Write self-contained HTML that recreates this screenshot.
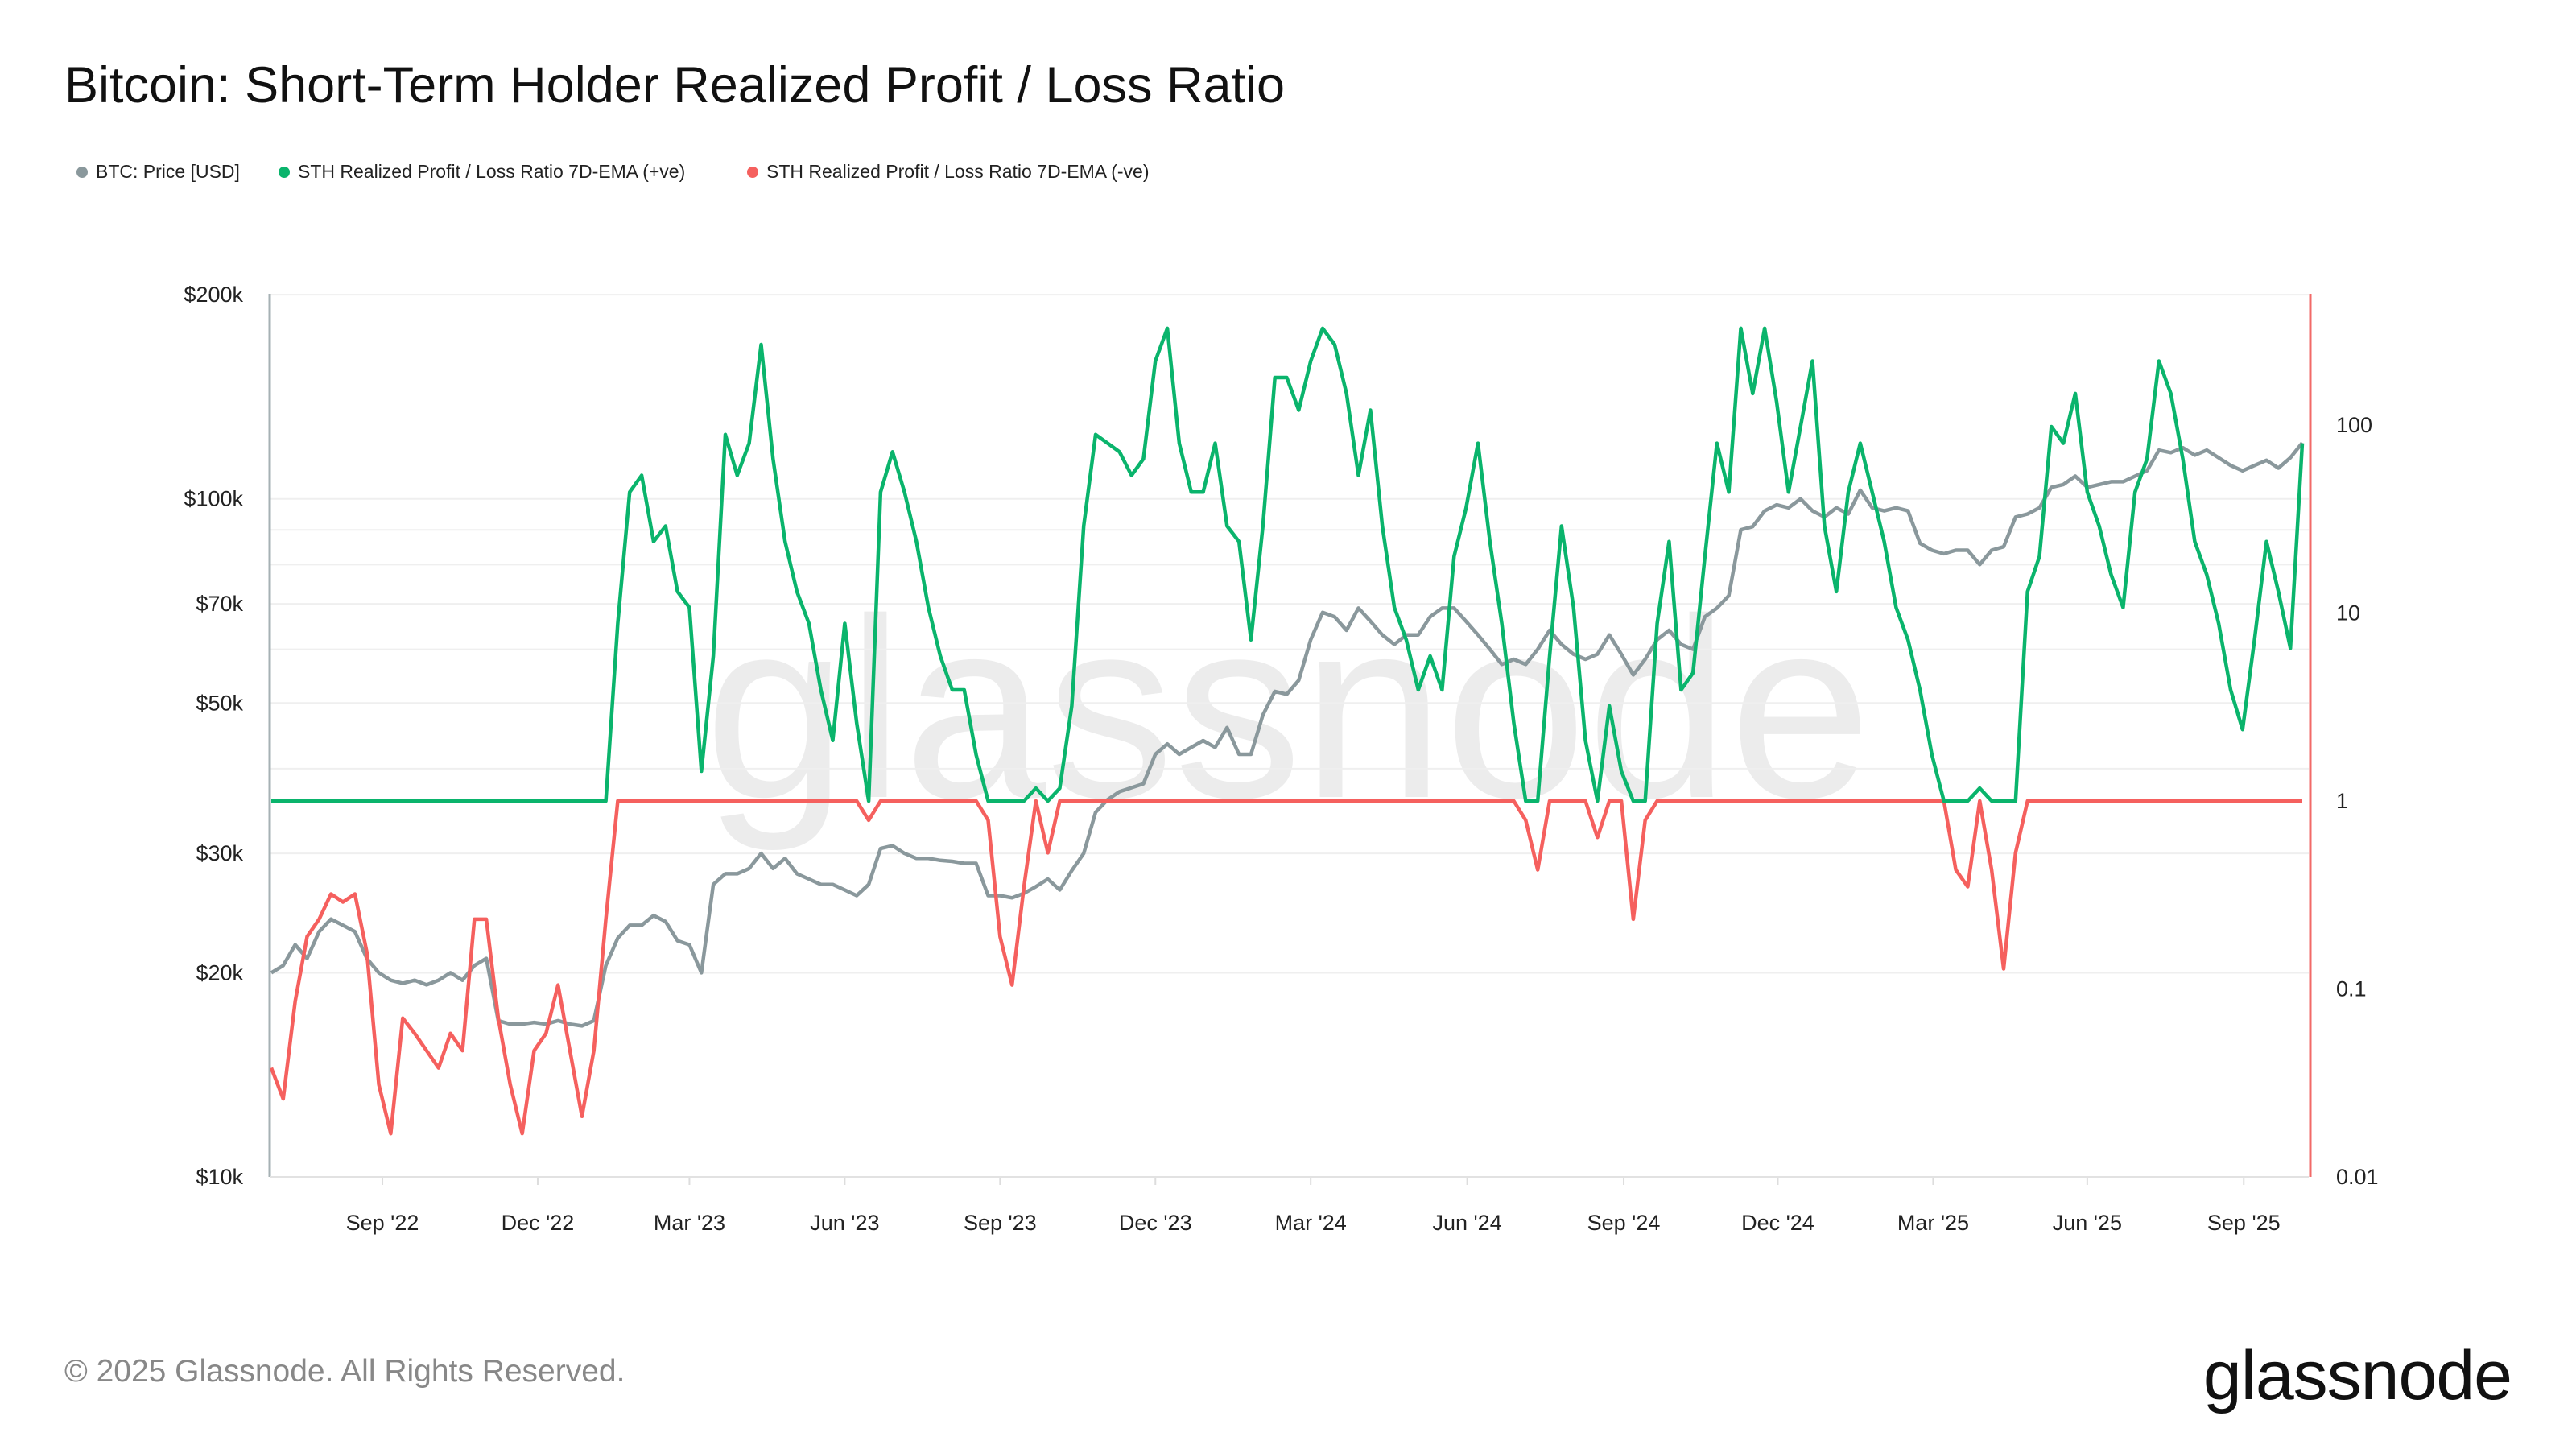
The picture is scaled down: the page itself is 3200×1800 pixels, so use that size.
<!DOCTYPE html>
<html><head><meta charset="utf-8">
<style>
html,body{margin:0;padding:0;background:#fff;}
body{width:3200px;height:1800px;position:relative;overflow:hidden;font-family:"Liberation Sans",sans-serif;}
.title{position:absolute;left:80px;top:70px;font-size:63px;color:#111;}
.legend{position:absolute;top:200px;font-size:23px;color:#222;display:flex;align-items:center;}
.legend span.dot{display:inline-block;width:14px;height:14px;border-radius:50%;margin-right:10px;}
.footer{position:absolute;left:80px;top:1682px;font-size:39px;color:#888;}
.logo{position:absolute;right:80px;top:1660px;font-size:86px;color:#111;letter-spacing:-1px;}
svg{position:absolute;left:0;top:0;}
</style></head>
<body>
<div class="title">Bitcoin: Short-Term Holder Realized Profit / Loss Ratio</div>
<div class="legend" style="left:95px"><span class="dot" style="background:#8a989c"></span>BTC: Price [USD]</div>
<div class="legend" style="left:346px"><span class="dot" style="background:#0ab46c"></span>STH Realized Profit / Loss Ratio 7D-EMA (+ve)</div>
<div class="legend" style="left:928px"><span class="dot" style="background:#f5605e"></span>STH Realized Profit / Loss Ratio 7D-EMA (-ve)</div>
<svg id="chart" width="3200" height="1800"></svg>
<div class="footer">© 2025 Glassnode. All Rights Reserved.</div>
<div class="logo">glassnode</div>
<script>
const priceK = [20,20.5,22,21,23,24,23.5,23,21,20,19.5,19.3,19.5,19.2,19.5,20,19.5,20.5,21,17,16.8,16.8,16.9,16.8,17,16.8,16.7,17,20.5,22.5,23.5,23.5,24.3,23.8,22.3,22,20,27,28,28,28.5,30,28.5,29.5,28,27.5,27,27,26.5,26,27,30.5,30.8,30,29.5,29.5,29.3,29.2,29,29,26,26,25.8,26.2,26.8,27.5,26.5,28.3,30,34.5,36,37,37.5,38,42,43.5,42,43,44,43,46,42,42,48,52,51.5,54,62,68,67,64,69,66,63,61,63,63,67,69,69,66,63,60,57,58,57,60,64,61,59,58,59,63,59,55,58,62,64,61,60,67,69,72,90,91,96,98,97,100,96,94,97,95,103,97,96,97,96,86,84,83,84,84,80,84,85,94,95,97,104,105,108,104,105,106,106,108,110,118,117,119,116,118,115,112,110,112,114,111,115,121];
const ratio = [0.038,0.026,0.086,0.19,0.235,0.32,0.29,0.32,0.157,0.031,0.017,0.07,0.058,0.047,0.038,0.058,0.047,0.235,0.235,0.07,0.031,0.017,0.047,0.058,0.105,0.047,0.021,0.047,0.235,8.8,44,54,24,29,13,10.7,1.44,5.9,89,54,80,268,66,24,13,8.8,3.9,2.1,8.8,2.6,0.79,44,72,44,24,10.7,5.9,3.9,3.9,1.76,0.79,0.19,0.105,0.35,1.17,0.53,1.17,3.2,29,89,80,72,54,66,219,327,80,44,44,80,29,24,7.2,29,179,179,120,219,327,268,147,54,120,29,10.7,7.2,3.9,5.9,3.9,20,36,80,24,8.8,2.6,0.79,0.43,5.9,29,10.7,2.1,0.64,3.2,1.44,0.235,0.79,8.8,24,3.9,4.8,20,80,44,327,147,327,133,44,98,219,29,13,44,80,44,24,10.7,7.2,3.9,1.76,1,0.43,0.35,1.17,0.43,0.128,0.53,13,20,98,80,147,44,29,16,10.7,44,66,219,147,66,24,16,8.8,3.9,2.4,7.2,24,13,6.5,80];
const xTickLabels = ["Sep '22","Dec '22","Mar '23","Jun '23","Sep '23","Dec '23","Mar '24","Jun '24","Sep '24","Dec '24","Mar '25","Jun '25","Sep '25"];
const xTickWeeks = [9.3,22.3,35,48,61,74,87,100.1,113.2,126.1,139.1,152,165.1];
const priceTicks = [10,20,30,50,70,100,200];
const priceGrid = [10,20,30,40,50,60,70,80,90,100,200];
const ratioTicks = [0.01,0.1,1,10,100];

const L=335,R=2868,T=365,B=1462;
const X0=337,X1=2860,N=170;
const xOf=w=>X0+w*(X1-X0)/N;
const yPrice=k=>B-Math.log10(k/10)*842.3;
const yRatio=r=>B-(Math.log10(r)+2)*233.5;
const NS="http://www.w3.org/2000/svg";
const svg=document.getElementById('chart');
function mk(tag,attrs){const e=document.createElementNS(NS,tag);for(const k in attrs)e.setAttribute(k,attrs[k]);svg.appendChild(e);return e;}

const wm=mk('text',{x:1600,y:990,'text-anchor':'middle','font-size':318,fill:'#ececec','font-family':'Liberation Sans, sans-serif'});
wm.textContent='glassnode';



priceGrid.forEach(p=>{
  const g=mk('line',{x1:L,x2:R,y1:yPrice(p),y2:yPrice(p),stroke:'#efefef','stroke-width':2});
  
  
});
priceTicks.forEach(p=>{
  const t=mk('text',{x:302,y:yPrice(p)+9,'text-anchor':'end','font-size':27,fill:'#222'});
  t.textContent='$'+p+'k';
  
  
});
ratioTicks.forEach(r=>{
  const t=mk('text',{x:2902,y:yRatio(r)+9,'font-size':27,fill:'#222'});
  t.textContent=String(r);
  
  
});
xTickLabels.forEach((lab,i)=>{
  const x=xOf(xTickWeeks[i]);
  const tk=mk('line',{x1:x,x2:x,y1:B,y2:B+10,stroke:'#ddd','stroke-width':2});
  
  
  const t=mk('text',{x:x,y:1528,'text-anchor':'middle','font-size':27,fill:'#222'});
  t.textContent=lab;
  
  
});
const la=mk('line',{x1:L,x2:L,y1:T,y2:B,stroke:'#a6b1b4','stroke-width':3});


const ra=mk('line',{x1:2870,x2:2870,y1:T,y2:B,stroke:'#f26a68','stroke-width':3});


const ba=mk('line',{x1:L,x2:R,y1:B,y2:B,stroke:'#e2e2e2','stroke-width':2});



function path(vals,yf,color,name){
  const d=vals.map((v,i)=>(i?'L':'M')+xOf(i).toFixed(1)+' '+yf(v).toFixed(1)).join(' ');
  const p=mk('path',{d:d,fill:'none',stroke:color,'stroke-width':4.5,'stroke-linejoin':'round'});
  
  
}
path(priceK,yPrice,'#8a989c','price-line');
path(ratio.map(r=>Math.min(r,1)),yRatio,'#f5605e','negative-ratio-line');
path(ratio.map(r=>Math.max(r,1)),yRatio,'#0ab46c','positive-ratio-line');
</script>
</body></html>
